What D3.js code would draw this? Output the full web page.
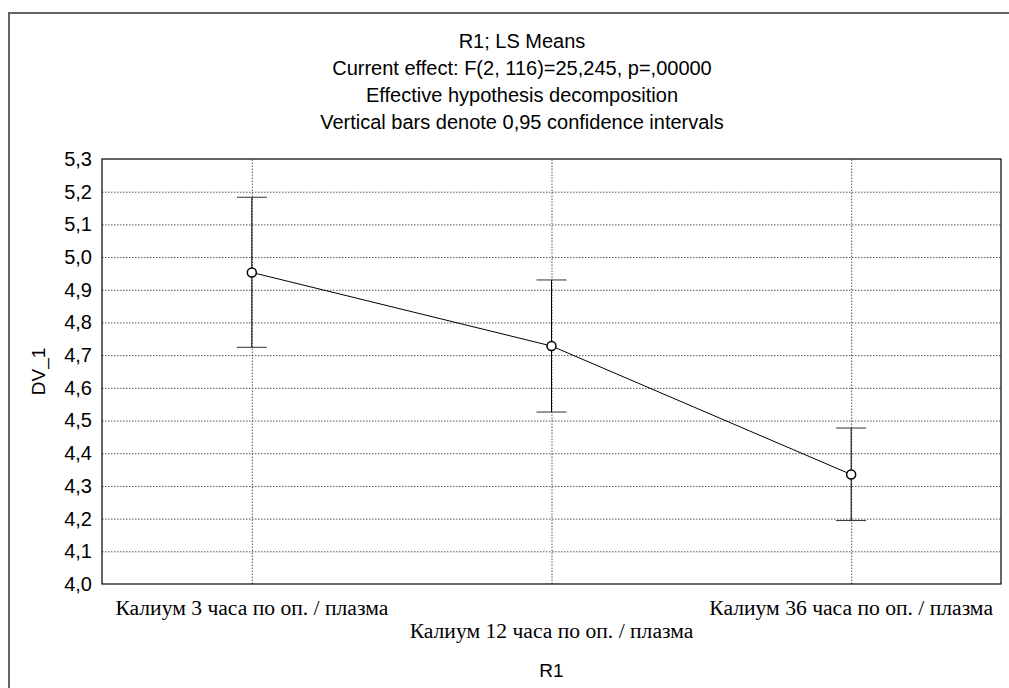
<!DOCTYPE html>
<html lang="ru">
<head>
<meta charset="utf-8">
<title>R1; LS Means</title>
<script src="https://d3js.org/d3.v7.min.js"></script>
<style>
  body { margin: 0; background: #fff; overflow: hidden; }
  svg { display: block; }
  .grid line { stroke: #555; stroke-dasharray: 1.5 1.5; }
  .grid .domain { stroke: none; }
  .axis .domain { stroke: none; }
  .axis line { stroke: none; }
</style>
</head>
<body>
<svg id="chart" width="1009" height="688"></svg>
<script>
// data
const categories = ["Калиум 3 часа по оп. / плазма", "Калиум 12 часа по оп. / плазма", "Калиум 36 часа по оп. / плазма"];
const means = [4.953, 4.728, 4.335];
const upper = [5.183, 4.930, 4.477];
const lower = [4.724, 4.526, 4.194];
const yTicks = [4.0, 4.1, 4.2, 4.3, 4.4, 4.5, 4.6, 4.7, 4.8, 4.9, 5.0, 5.1, 5.2, 5.3];
const titleLines = [
  "R1; LS Means",
  "Current effect: F(2, 116)=25,245, p=,00000",
  "Effective hypothesis decomposition",
  "Vertical bars denote 0,95 confidence intervals"
];

const margin = { top: 159, right: 8, bottom: 104, left: 102 };
const width = 1009, height = 688;
const cw = width - margin.left - margin.right;
const ch = height - margin.top - margin.bottom;

const svg = d3.select("#chart");
const sans = "Arial, 'Liberation Sans', sans-serif";
const serif = "'Times New Roman', 'Liberation Serif', serif";

// outer frame (top and left edges only are inside the picture)
svg.append("path")
  .attr("d", `M9,${height} V13 H${width}`)
  .attr("fill", "none")
  .attr("stroke", "#666")
  .attr("stroke-width", 2);

// titles (centred on the whole graph window)
svg.selectAll(".title").data(titleLines).join("text")
  .attr("class", "title")
  .attr("x", 522)
  .attr("y", (d, i) => 48 + i * 27)
  .attr("text-anchor", "middle")
  .style("font-family", sans)
  .style("font-size", "20px")
  .text(d => d);

const x = d3.scalePoint().domain(categories).range([0, cw]).padding(0.5);
const y = d3.scaleLinear().domain([4.0, 5.3]).range([ch, 0]);

const g = svg.append("g").attr("transform", `translate(${margin.left},${margin.top})`);

// gridlines
g.append("g").attr("class", "grid")
  .call(d3.axisLeft(y).tickValues(yTicks.slice(1, -1)).tickSize(-cw).tickFormat(""));
g.append("g").attr("class", "grid")
  .attr("transform", `translate(0,${ch})`)
  .call(d3.axisBottom(x).tickSize(-ch).tickFormat(""));

// plot frame
g.append("rect")
  .attr("width", cw).attr("height", ch)
  .attr("fill", "none").attr("stroke", "#000").attr("stroke-width", 1.2);

// y axis labels
g.append("g").attr("class", "axis")
  .call(d3.axisLeft(y).tickValues(yTicks).tickSize(0).tickPadding(10)
    .tickFormat(d => d3.format(".1f")(d).replace(".", ",")))
  .selectAll("text")
  .style("font-family", sans)
  .style("font-size", "20px")
  .attr("fill", "#000");

// x axis labels, staggered
g.selectAll(".xlab").data(categories).join("text")
  .attr("class", "xlab")
  .attr("x", d => x(d))
  .attr("y", (d, i) => ch + (i % 2 === 0 ? 31 : 54))
  .attr("text-anchor", "middle")
  .style("font-family", serif)
  .style("font-size", "21.6px")
  .text(d => d);

// axis titles
svg.append("text")
  .attr("x", margin.left + cw / 2)
  .attr("y", 677)
  .attr("text-anchor", "middle")
  .style("font-family", sans)
  .style("font-size", "19px")
  .text("R1");

svg.append("text")
  .attr("transform", `translate(45,${margin.top + ch / 2}) rotate(-90)`)
  .attr("text-anchor", "middle")
  .style("font-family", sans)
  .style("font-size", "19px")
  .text("DV_1");

// error bars
const pts = categories.map((c, i) => ({ c, m: means[i], lo: lower[i], hi: upper[i] }));

g.selectAll(".bar").data(pts).join("line")
  .attr("x1", d => x(d.c)).attr("x2", d => x(d.c))
  .attr("y1", d => y(d.hi)).attr("y2", d => y(d.lo))
  .attr("stroke", "#000").attr("stroke-width", 1);

const capW = 15;
["hi", "lo"].forEach(k => {
  g.selectAll(".cap-" + k).data(pts).join("line")
    .attr("x1", d => x(d.c) - capW).attr("x2", d => x(d.c) + capW)
    .attr("y1", d => y(d[k])).attr("y2", d => y(d[k]))
    .attr("stroke", "#333").attr("stroke-width", 1);
});

// mean line
g.append("path")
  .datum(pts)
  .attr("fill", "none")
  .attr("stroke", "#000")
  .attr("stroke-width", 1)
  .attr("d", d3.line().x(d => x(d.c)).y(d => y(d.m)));

g.selectAll(".pt").data(pts).join("circle")
  .attr("cx", d => x(d.c)).attr("cy", d => y(d.m))
  .attr("r", 4.5)
  .attr("fill", "#fff").attr("stroke", "#000").attr("stroke-width", 1.5);
</script>
</body>
</html>
